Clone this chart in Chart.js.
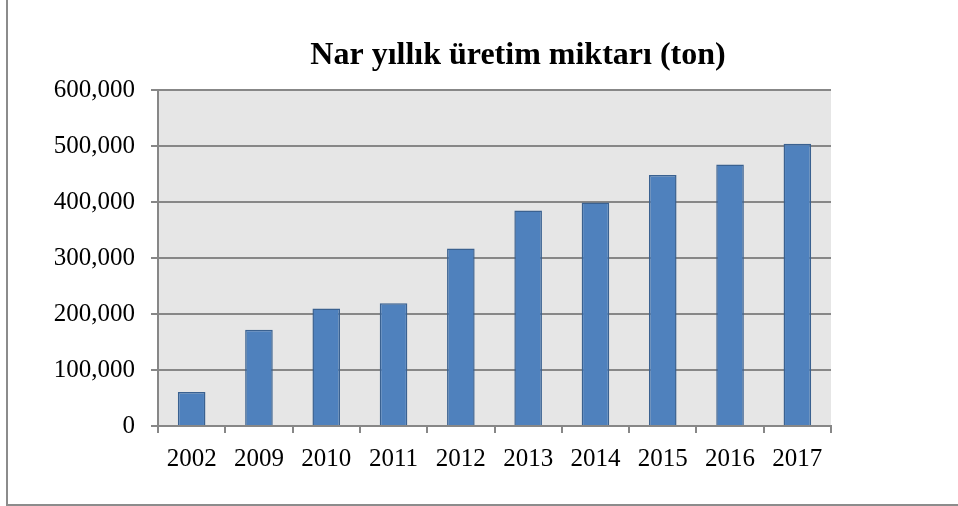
<!DOCTYPE html>
<html>
<head>
<meta charset="utf-8">
<script src="https://cdn.jsdelivr.net/npm/chart.js@4"></script>
<style>
  html, body { margin: 0; padding: 0; background: #fff; }
  #wrap { position: relative; width: 958px; height: 506px; }
</style>
</head>
<body>
<div id="wrap"><canvas id="narChart" width="958" height="506"></canvas></div>
<script>
// Chart data
const chartTitle = 'Nar yıllık üretim miktarı (ton)';
const years = ['2002', '2009', '2010', '2011', '2012', '2013', '2014', '2015', '2016', '2017'];
const production = [60500, 172000, 210000, 219000, 317000, 385000, 399000, 448000, 467000, 504000];
const yTicks = [0, 100000, 200000, 300000, 400000, 500000, 600000];

const serif = '"Liberation Serif", "Times New Roman", serif';

// Plot background, outer frame and title
const frameAndTitle = {
    id: 'frameAndTitle',
    beforeDraw(chart) {
        const { ctx, chartArea } = chart;
        ctx.save();
        ctx.fillStyle = '#e6e6e6';
        ctx.fillRect(chartArea.left, chartArea.top, chartArea.right - chartArea.left, chartArea.bottom - chartArea.top);
        ctx.restore();
    },
    afterDraw(chart) {
        const { ctx } = chart;
        ctx.save();
        ctx.strokeStyle = '#8c8c8c';
        ctx.lineWidth = 2;
        ctx.beginPath();
        ctx.moveTo(7, 0);
        ctx.lineTo(7, 505);
        ctx.lineTo(958, 505);
        ctx.stroke();
        ctx.fillStyle = '#000';
        ctx.font = 'bold 32px ' + serif;
        ctx.textAlign = 'center';
        ctx.textBaseline = 'alphabetic';
        ctx.fillText(chartTitle, 518, 64);
        ctx.restore();
    }
};

new Chart(document.getElementById('narChart'), {
    type: 'bar',
    data: {
        labels: years,
        datasets: [{
            data: production,
            backgroundColor: '#4f81bd',
            borderColor: '#3a6190',
            borderWidth: 1.5,
            barPercentage: 0.82,
            categoryPercentage: 0.5
        }]
    },
    options: {
        responsive: false,
        animation: false,
        layout: { padding: { top: 90, right: 127, bottom: 0, left: 0 } },
        plugins: {
            legend: { display: false },
            title: { display: false },
            tooltip: { enabled: false }
        },
        scales: {
            x: {
                offset: true,
                afterFit: (axis) => { axis.height = 80; },
                grid: {
                    offset: true,
                    drawOnChartArea: false,
                    drawTicks: true,
                    tickLength: 7,
                    color: '#878787',
                    lineWidth: 2
                },
                border: { display: true, color: '#878787', width: 2 },
                ticks: {
                    color: '#000',
                    font: { family: serif, size: 25 },
                    padding: 11,
                    maxRotation: 0,
                    autoSkip: false
                }
            },
            y: {
                min: 0,
                max: 600000,
                afterFit: (axis) => { axis.width = 158; },
                afterBuildTicks: (axis) => { axis.ticks = yTicks.map(v => ({ value: v })); },
                grid: {
                    color: '#878787',
                    lineWidth: 2,
                    tickLength: 7
                },
                border: { display: true, color: '#878787', width: 2 },
                ticks: {
                    color: '#000',
                    font: { family: serif, size: 25 },
                    padding: 16,
                    callback: (v) => v.toLocaleString('en-US')
                }
            }
        }
    },
    plugins: [frameAndTitle]
});
</script>
</body>
</html>
